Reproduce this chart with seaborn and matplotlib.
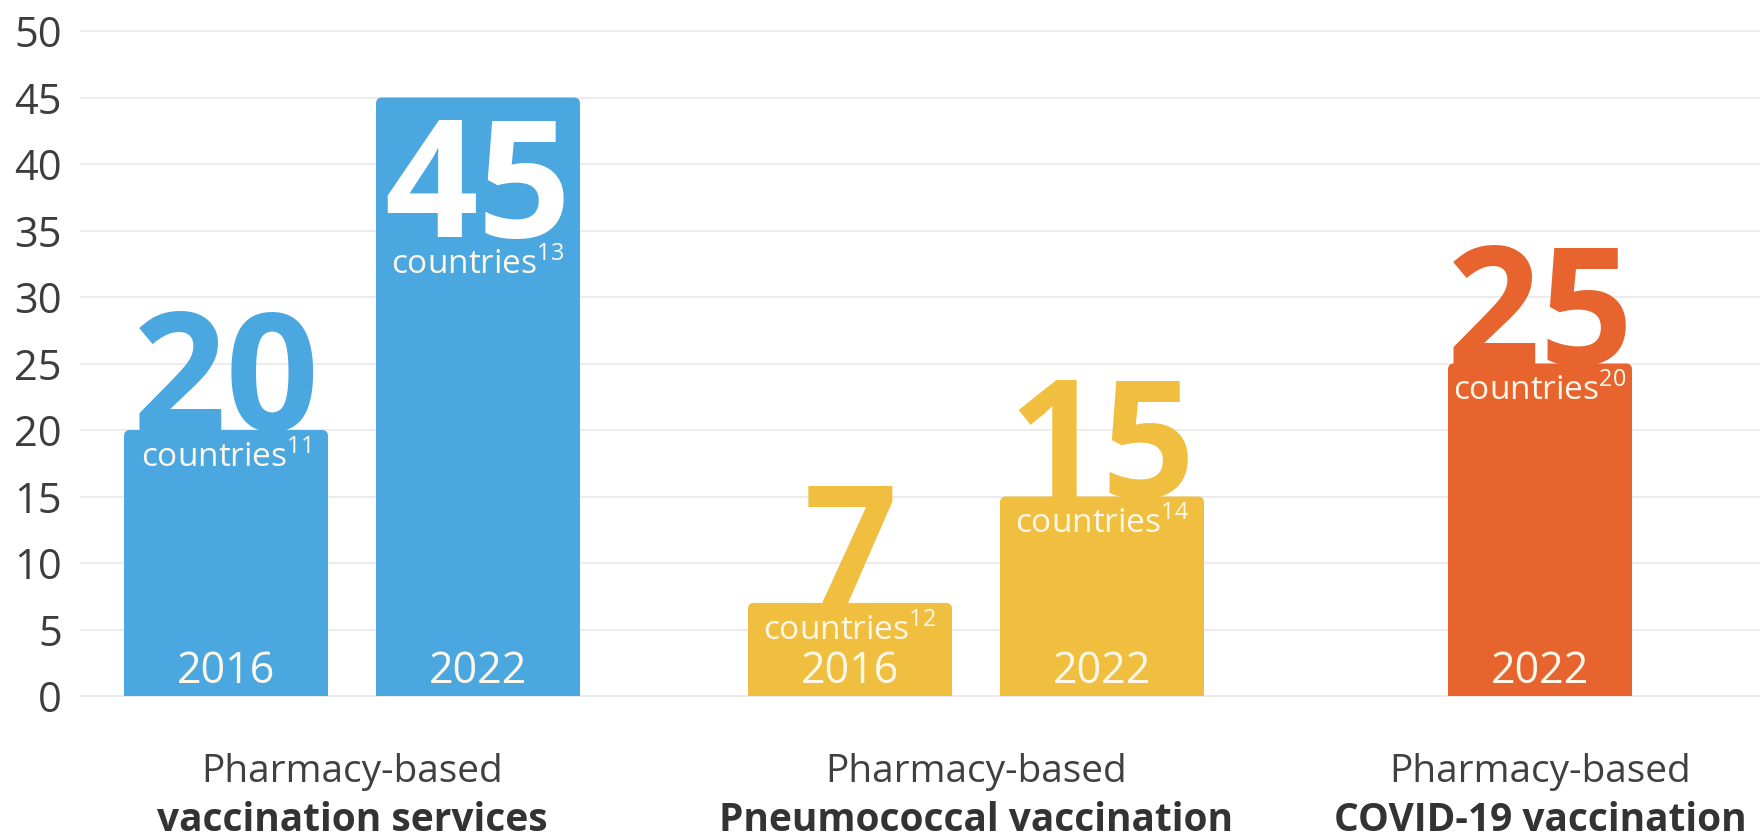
import numpy as np
import pandas as pd
import matplotlib
matplotlib.use('Agg')
import matplotlib.pyplot as plt
from matplotlib.patches import FancyBboxPatch, Rectangle
import seaborn as sns

# ------------------------------------------------------------
# data
# ------------------------------------------------------------
programmes = ["vaccination services", "Pneumococcal vaccination", "COVID-19 vaccination"]
bar_programme = [0, 0, 1, 1, 2]
bar_years = ["2016", "2022", "2016", "2022", "2022"]
bar_countries = [20, 45, 7, 15, 25]
bar_refs = ["11", "13", "12", "14", "20"]
y_ticks = [0, 5, 10, 15, 20, 25, 30, 35, 40, 45, 50]

# ------------------------------------------------------------
# layout / style
# ------------------------------------------------------------
COLORS = ["#4BA7DF", "#F1BF3F", "#E8642F"]
GROUP_X = [352, 976, 1540]      # x axis runs in pixel-like units
PAIR_OFFSET = 126
BAR_W = [204, 204, 184]
PX_PER_UNIT = 13.3
TEXT_DARK = "#3d3d3d"
LABEL_WHITE = "#FFF8EA"

# bar centres from group + position inside group
xpos = []
for i, g in enumerate(bar_programme):
    members = [j for j, gg in enumerate(bar_programme) if gg == g]
    k = members.index(i)
    xpos.append(GROUP_X[g] + (k - (len(members) - 1) / 2) * 2 * PAIR_OFFSET)

df = pd.DataFrame({
    "x": xpos,
    "countries": bar_countries,
    "programme": [programmes[g] for g in bar_programme],
})

sns.set_theme(style="white")
plt.rcParams['font.family'] = ['Open Sans', 'DejaVu Sans']
plt.rcParams['mathtext.fontset'] = 'custom'
plt.rcParams['mathtext.rm'] = 'Open Sans'

fig = plt.figure(figsize=(17.6, 8.38), dpi=100)
fig.patch.set_facecolor('white')
ax = fig.add_axes([80 / 1760, 0.1615, 1 - 80 / 1760, 0.8094])

sns.barplot(data=df, x="x", y="countries", hue="programme",
            palette=dict(zip(programmes, COLORS)), native_scale=True,
            dodge=False, width=0.8, saturation=1, legend=False, ax=ax)

ax.set_xlim(80, 1760)
ax.set_ylim(-0.5, 50.5)

# swap plain rectangles for bars with rounded tops
for patch in list(ax.patches):
    cx = patch.get_x() + patch.get_width() / 2
    h = patch.get_height()
    i = int(np.argmin(np.abs(np.array(xpos) - cx)))
    w = BAR_W[bar_programme[i]]
    color = patch.get_facecolor()
    patch.remove()
    box = FancyBboxPatch((cx - w / 2, -1), w, h + 1,
                         boxstyle="round,pad=0,rounding_size=6",
                         mutation_aspect=1 / PX_PER_UNIT,
                         fc=color, ec='none', zorder=2)
    ax.add_patch(box)
    box.set_clip_path(Rectangle((cx - w / 2 - 2, 0), w + 4, 60,
                                transform=ax.transData))

# axes styling
ax.set_yticks(y_ticks)
ax.set_yticklabels([str(t) for t in y_ticks])
ax.set_xticks([])
ax.set_xlabel('')
ax.set_ylabel('')
ax.tick_params(axis='y', length=0, pad=13, labelsize=30, labelcolor=TEXT_DARK)
ax.yaxis.grid(True, color='#ECECEC', linewidth=1.5)
ax.set_axisbelow(True)
for s in ax.spines.values():
    s.set_visible(False)

# value labels
for i, val in enumerate(bar_countries):
    color = COLORS[bar_programme[i]]
    cx = xpos[i]
    inside = val + 9.2 > 50
    base = val - 10.5 if inside else val
    ax.text(cx, base, str(val), ha='center', va='baseline',
            fontsize=118, fontweight='bold',
            color='white' if inside else color, zorder=3)
    ax.text(cx, base - 2.75, "countries$^{\\mathregular{%s}}$" % bar_refs[i],
            ha='center', va='baseline', fontsize=24,
            color=LABEL_WHITE, zorder=4)
    ax.text(cx, 1.0, bar_years[i], ha='center', va='baseline',
            fontsize=31, color=LABEL_WHITE, zorder=4)

# programme labels under the groups
for g, name in enumerate(programmes):
    ax.text(GROUP_X[g], -6.5, "Pharmacy-based", ha='center', va='baseline',
            fontsize=28, color='#404040', clip_on=False)
    ax.text(GROUP_X[g], -10.15, name, ha='center', va='baseline',
            fontsize=28, fontweight='bold', color='#333333', clip_on=False)

plt.savefig("out.png", dpi=100, facecolor='white')
plt.close()
